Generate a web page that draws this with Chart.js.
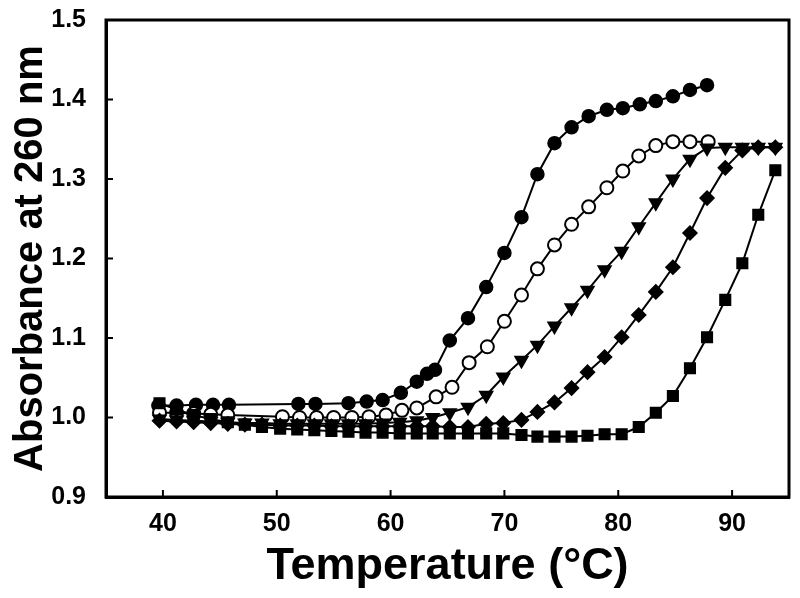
<!DOCTYPE html>
<html>
<head>
<meta charset="utf-8">
<script src="https://cdn.jsdelivr.net/npm/chart.js@4.4.0/dist/chart.umd.min.js"></script>
<style>
  html, body { margin: 0; padding: 0; background: #fff; }
</style>
</head>
<body>
<canvas id="grafica" width="800" height="598"></canvas>
<script>
// temperaturas (°C) y absorbancias
const tempLleno = [39.6, 41.2, 42.9, 44.4, 45.8, 51.9, 53.4, 56.3, 57.9, 59.3, 60.9, 62.3, 63.2, 63.9, 65.2, 66.8, 68.4, 70.0, 71.5, 72.9, 74.4, 75.9, 77.4, 79.0, 80.4, 81.9, 83.3, 84.8, 86.3, 87.8];
const absLleno = [1.015, 1.015, 1.016, 1.016, 1.016, 1.017, 1.017, 1.018, 1.020, 1.022, 1.031, 1.045, 1.055, 1.060, 1.097, 1.125, 1.164, 1.207, 1.252, 1.306, 1.345, 1.365, 1.379, 1.387, 1.389, 1.394, 1.398, 1.404, 1.412, 1.418];

const tempAbierto = [39.7, 41.2, 42.7, 44.2, 45.7, 50.5, 52.0, 53.5, 55.0, 56.6, 58.1, 59.6, 61.0, 62.3, 64.0, 65.4, 66.9, 68.5, 70.0, 71.5, 72.9, 74.4, 75.9, 77.4, 79.0, 80.4, 81.8, 83.3, 84.8, 86.3, 87.9];
const absAbierto = [1.006, 1.006, 1.005, 1.004, 1.003, 1.001, 1.000, 1.000, 1.000, 1.000, 1.001, 1.003, 1.009, 1.012, 1.026, 1.038, 1.069, 1.089, 1.121, 1.154, 1.187, 1.217, 1.243, 1.265, 1.289, 1.310, 1.329, 1.342, 1.347, 1.347, 1.347];

const tempComun = [39.7, 41.2, 42.7, 44.2, 45.7, 47.2, 48.7, 50.3, 51.8, 53.3, 54.8, 56.3, 57.8, 59.3, 60.8, 62.3, 63.7, 65.2, 66.8, 68.4, 69.9, 71.5, 72.9, 74.4, 75.9, 77.3, 78.8, 80.3, 81.8, 83.3, 84.8, 86.3, 87.8, 89.4, 90.9, 92.3, 93.8];
const absTriangulo = [0.998, 0.997, 0.996, 0.995, 0.994, 0.993, 0.993, 0.992, 0.992, 0.992, 0.992, 0.992, 0.992, 0.993, 0.994, 0.996, 1.000, 1.006, 1.013, 1.028, 1.051, 1.072, 1.091, 1.115, 1.138, 1.160, 1.186, 1.209, 1.240, 1.270, 1.300, 1.325, 1.339, 1.340, 1.340, 1.340, 1.340];
const absRombo = [0.996, 0.995, 0.994, 0.993, 0.992, 0.991, 0.991, 0.990, 0.990, 0.990, 0.989, 0.989, 0.989, 0.989, 0.989, 0.989, 0.989, 0.988, 0.988, 0.992, 0.993, 0.997, 1.007, 1.019, 1.037, 1.057, 1.076, 1.101, 1.129, 1.158, 1.189, 1.232, 1.276, 1.314, 1.336, 1.340, 1.340];
const absCuadrado = [1.018, 1.010, 1.003, 0.998, 0.994, 0.991, 0.988, 0.986, 0.985, 0.984, 0.983, 0.982, 0.981, 0.981, 0.980, 0.980, 0.980, 0.980, 0.980, 0.980, 0.980, 0.978, 0.976, 0.976, 0.976, 0.977, 0.979, 0.979, 0.988, 1.006, 1.027, 1.062, 1.101, 1.148, 1.194, 1.255, 1.311];

const ticksX = [40, 50, 60, 70, 80, 90];
const ticksY = [0.9, 1.0, 1.1, 1.2, 1.3, 1.4, 1.5];

const fuente = "'Liberation Sans', Arial, sans-serif";

const puntos = (xs, ys) => xs.map((x, i) => ({ x: x, y: ys[i] }));

const serie = (xs, ys, estilo, extra) => Object.assign({
    data: puntos(xs, ys),
    showLine: true,
    borderColor: "#000",
    backgroundColor: "#000",
    borderWidth: 2,
    pointStyle: estilo,
    pointRadius: 6.5,
    pointBorderWidth: 1.5,
    pointBorderColor: "#000",
    pointBackgroundColor: "#000",
    tension: 0,
}, extra);

const sinRelleno = (axis) => {
    axis.paddingTop = 0;
    axis.paddingBottom = 0;
    axis.paddingLeft = 0;
    axis.paddingRight = 0;
};

// marco completo y marcas de escala hacia dentro
const marco = {
    id: "marco",
    afterDraw: (chart) => {
        const ctx = chart.ctx;
        const a = chart.chartArea;
        const sx = chart.scales.x;
        const sy = chart.scales.y;
        ctx.save();
        ctx.strokeStyle = "#000";
        ctx.lineWidth = 2;
        ticksX.forEach((v) => {
            const px = sx.getPixelForValue(v);
            ctx.beginPath();
            ctx.moveTo(px, a.bottom);
            ctx.lineTo(px, a.bottom - 7);
            ctx.stroke();
        });
        ticksY.slice(1, -1).forEach((v) => {
            const py = sy.getPixelForValue(v);
            ctx.beginPath();
            ctx.moveTo(a.left, py);
            ctx.lineTo(a.left + 7, py);
            ctx.stroke();
        });
        ctx.lineWidth = 3;
        ctx.strokeRect(a.left, a.top, a.right - a.left, a.bottom - a.top);
        ctx.restore();
    },
};

new Chart("grafica", {
    type: "scatter",
    data: {
        datasets: [
            serie(tempComun, absCuadrado, "rect", { pointRadius: 7.5 }),
            serie(tempComun, absRombo, "rectRot", { pointRadius: 7 }),
            serie(tempComun, absTriangulo, "triangle", { pointRadius: 7.5, rotation: 180 }),
            serie(tempAbierto, absAbierto, "circle", { pointBackgroundColor: "#fff", pointBorderWidth: 2 }),
            serie(tempLleno, absLleno, "circle", {}),
        ],
    },
    options: {
        responsive: false,
        animation: false,
        devicePixelRatio: 1,
        layout: { padding: { top: 20, right: 11, left: 0, bottom: 0 } },
        plugins: { legend: { display: false }, tooltip: { enabled: false } },
        scales: {
            x: {
                type: "linear",
                min: 35,
                max: 95,
                afterBuildTicks: (axis) => { axis.ticks = ticksX.map((v) => ({ value: v })); },
                afterFit: (axis) => { axis.height = 101; sinRelleno(axis); },
                grid: { display: false, drawTicks: false },
                border: { display: true, color: "#000", width: 3 },
                ticks: {
                    color: "#000",
                    padding: 12,
                    maxRotation: 0,
                    font: { family: fuente, size: 25, weight: "bold" },
                },
                title: {
                    display: true,
                    text: "Temperature (°C)",
                    color: "#000",
                    padding: { top: 0, bottom: 4 },
                    font: { family: fuente, size: 45, weight: "bold" },
                },
            },
            y: {
                type: "linear",
                min: 0.9,
                max: 1.5,
                afterBuildTicks: (axis) => { axis.ticks = ticksY.map((v) => ({ value: v })); },
                afterFit: (axis) => { axis.width = 106; sinRelleno(axis); },
                grid: { display: false, drawTicks: false },
                border: { display: true, color: "#000", width: 3 },
                ticks: {
                    color: "#000",
                    padding: 20,
                    callback: (v) => v.toFixed(1),
                    font: { family: fuente, size: 25, weight: "bold" },
                },
                title: {
                    display: true,
                    text: "Absorbance at 260 nm",
                    color: "#000",
                    padding: { top: 7, bottom: 0 },
                    font: { family: fuente, size: 40, weight: "bold" },
                },
            },
        },
    },
    plugins: [marco],
});
</script>
</body>
</html>
